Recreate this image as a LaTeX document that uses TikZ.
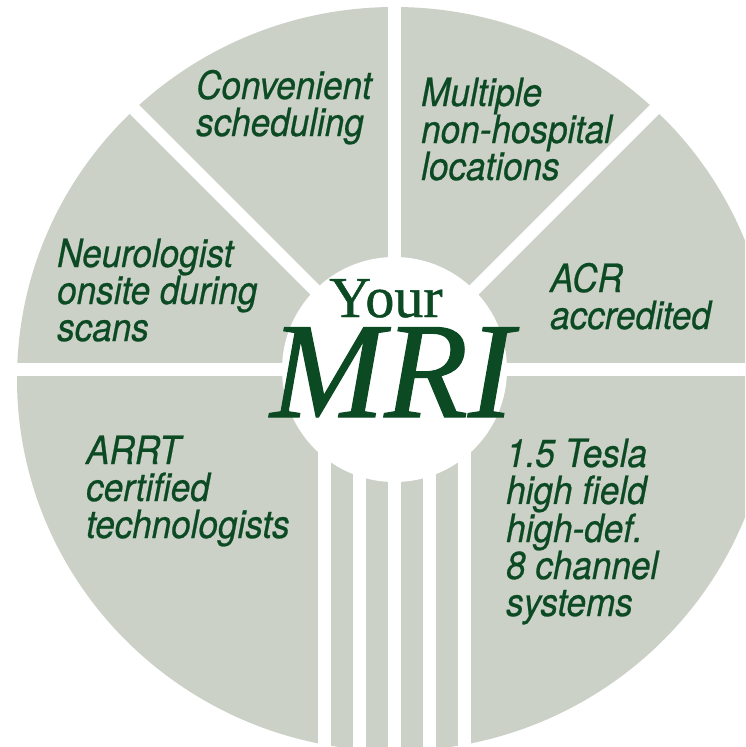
\documentclass[tikz,border=0pt]{standalone}
\usepackage{fontspec}
\newfontfamily\lblfont[FakeStretch=0.9,FakeBold=0.6]{TeX Gyre Heros}
\newfontfamily\mrifont[FakeBold=0.8]{Liberation Serif}
\definecolor{mrigray}{RGB}{204,209,200}
\definecolor{mrigreen}{RGB}{12,74,36}
\tikzset{
  spoke/.style={white, line width=13pt},
  lbl/.style={font=\lblfont\itshape\fontsize{39}{37}\selectfont, text=mrigreen,
              align=left, anchor=base west, inner sep=0pt},
}
\begin{document}
\begin{tikzpicture}[x=1pt,y=-1pt]
    \useasboundingbox (0,0) rectangle (745,747);
    \clip (0,0) rectangle (745,747);
    \fill[mrigray] (394.5,379) ellipse [x radius=377.5, y radius=372];
    \coordinate (hub) at (394.5,369.5);
    \foreach \a in {0,-45,-90,-135,180}
        \draw[spoke] (hub) -- ++(\a:420);
    \foreach \x in {324.5,359.5,394.5,429.5,464.5}
        \draw[spoke] (\x,369.5) -- (\x,760);
    \node[circle, fill=white, minimum size=225pt, inner sep=0pt] (core) at (hub) {};
    \node[anchor=base, text=mrigreen, inner sep=0pt, font=\mrifont\fontsize{58}{58}\selectfont] (your) at (386,317) {Your};
    \node[anchor=base, text=mrigreen, inner sep=0pt, text height=90pt, text depth=0pt,
          font=\mrifont\itshape\fontsize{137}{137}\selectfont] (mri) at (392,417) {MRI};
    \node[lbl] (sched) at (196,136) {Convenient\\scheduling};
    \node[lbl] (multi) at (421,180) {Multiple\\non-hospital\\locations};
    \node[lbl] (neuro) at (57,341) {Neurologist\\onsite during\\scans};
    \node[lbl] (acr) at (550,329) {ACR\\accredited};
    \node[lbl] (arrt) at (86,538) {ARRT\\certified\\technologists};
    \node[lbl] (tesla) at (506,616) {1.5 Tesla\\high field\\high-def.\\8 channel\\systems};
\end{tikzpicture}
\end{document}
